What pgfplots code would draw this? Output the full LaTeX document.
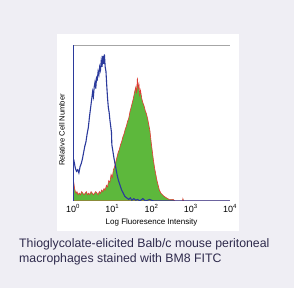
\documentclass[border=0pt]{standalone}
\usepackage{pgfplots}
\pgfplotsset{compat=1.18}
\usepackage{fontspec}
\setmainfont{Liberation Sans}
\definecolor{bgc}{HTML}{EFEEF4}
\definecolor{capc}{HTML}{2E2A4C}
\definecolor{bluec}{HTML}{2B3A9C}
\definecolor{greenc}{HTML}{5DB83C}
\definecolor{redc}{HTML}{E03A34}
\begin{document}
\begin{tikzpicture}[x=1pt,y=1pt]
\fill[bgc] (0,0) rectangle (294,288);
\fill[white] (57,57) rectangle (239,254);
\begin{axis}[
  at={(73pt,87pt)}, anchor=south west,
  scale only axis, width=157pt, height=156pt,
  xmin=0, xmax=4, ymin=0, ymax=1,
  axis line style={draw=none},
  major tick length=0pt,
  xtick={0,1,2,3,4},
  xticklabels={10\textsuperscript{0},10\textsuperscript{1},10\textsuperscript{2},10\textsuperscript{3},10\textsuperscript{4}},
  ytick=\empty,
  xticklabel style={font=\fontsize{9}{10}\selectfont, text=black, yshift=0pt},
  xlabel={Log Fluoresence Intensity},
  xlabel style={font=\fontsize{8}{9}\selectfont, at={(axis description cs:0.5,-0.135)}, anchor=center},
  ylabel={Relative Cell Number},
  ylabel style={font=\fontsize{7.6}{8}\selectfont, at={(axis description cs:-0.07,0.455)}, anchor=center},
  clip=true,
]
\addplot[draw=redc, fill=greenc, line width=0.6pt] coordinates {
(0.00,0.00) (0.00,0.14) (0.02,0.12) (0.04,0.08) (0.06,0.06) (0.08,0.05) (0.10,0.06) (0.13,0.04) (0.16,0.05) (0.19,0.04) (0.22,0.06) (0.25,0.05) (0.28,0.04) (0.31,0.05) (0.34,0.06) (0.37,0.04) (0.40,0.05) (0.43,0.04) (0.46,0.06) (0.49,0.05) (0.52,0.04) (0.55,0.05) (0.58,0.06) (0.61,0.05) (0.64,0.04) (0.67,0.06) (0.70,0.05) (0.73,0.07) (0.76,0.06) (0.79,0.08) (0.82,0.07) (0.85,0.10) (0.88,0.09) (0.91,0.13) (0.94,0.12) (0.97,0.17) (1.00,0.15) (1.03,0.20) (1.06,0.22) (1.09,0.25) (1.12,0.28) (1.15,0.31) (1.18,0.33) (1.21,0.36) (1.24,0.38) (1.27,0.41) (1.30,0.43) (1.33,0.46) (1.36,0.48) (1.39,0.51) (1.42,0.53) (1.45,0.57) (1.48,0.60) (1.51,0.63) (1.54,0.66) (1.57,0.70) (1.60,0.73) (1.62,0.69) (1.64,0.79) (1.66,0.72) (1.68,0.75) (1.70,0.68) (1.72,0.71) (1.75,0.66) (1.78,0.63) (1.81,0.61) (1.84,0.58) (1.87,0.56) (1.90,0.53) (1.93,0.49) (1.96,0.45) (1.99,0.38) (2.02,0.32) (2.05,0.26) (2.08,0.21) (2.11,0.17) (2.14,0.13) (2.17,0.10) (2.20,0.07) (2.24,0.05) (2.28,0.04) (2.32,0.03) (2.38,0.02) (2.45,0.01) (2.55,0.01) (2.60,0.00) (2.79,0.00) (2.80,0.015) (2.82,0.00) (4.00,0.00)
} \closedcycle;
\addplot[draw=bluec, line width=1.1pt] coordinates {
(0.00,0.22) (0.03,0.25) (0.06,0.21) (0.09,0.19) (0.12,0.20) (0.15,0.18) (0.18,0.22) (0.21,0.24) (0.24,0.27) (0.27,0.31) (0.30,0.35) (0.33,0.38) (0.36,0.43) (0.39,0.47) (0.42,0.54) (0.45,0.60) (0.48,0.66) (0.50,0.70) (0.52,0.67) (0.54,0.73) (0.56,0.76) (0.58,0.72) (0.60,0.79) (0.62,0.78) (0.64,0.83) (0.66,0.81) (0.68,0.86) (0.70,0.84) (0.72,0.90) (0.74,0.86) (0.76,0.93) (0.78,0.88) (0.80,0.94) (0.82,0.86) (0.84,0.83) (0.86,0.74) (0.88,0.66) (0.90,0.60) (0.92,0.57) (0.94,0.52) (0.96,0.48) (0.98,0.44) (0.99,0.36) (1.01,0.33) (1.04,0.28) (1.07,0.24) (1.10,0.20) (1.13,0.16) (1.16,0.13) (1.20,0.10) (1.24,0.07) (1.28,0.05) (1.32,0.03) (1.37,0.02) (1.42,0.01) (1.46,0.02) (1.50,0.005) (1.55,0.015) (1.60,0.005) (1.65,0.01) (1.70,0.00) (1.78,0.015) (1.85,0.00) (1.95,0.01) (2.05,0.00) (4.00,0.00)
};
\draw[gray!70, line width=0.5pt] (rel axis cs:0,1) -- (rel axis cs:1,1);
\draw[black, line width=0.6pt] (rel axis cs:1,1) -- (rel axis cs:1,0);
\draw[bluec!70!black, line width=0.8pt] (rel axis cs:0,0) -- (rel axis cs:1,0);
\draw[bluec, line width=1.2pt] (rel axis cs:0,0) -- (rel axis cs:0,1);
\end{axis}
\node[anchor=north west, inner sep=0pt, align=left, text=capc, font=\fontsize{12.3}{15}\selectfont] at (19,50) {Thioglycolate-elicited Balb/c mouse peritoneal\\macrophages stained with BM8 FITC};
\end{tikzpicture}
\end{document}
